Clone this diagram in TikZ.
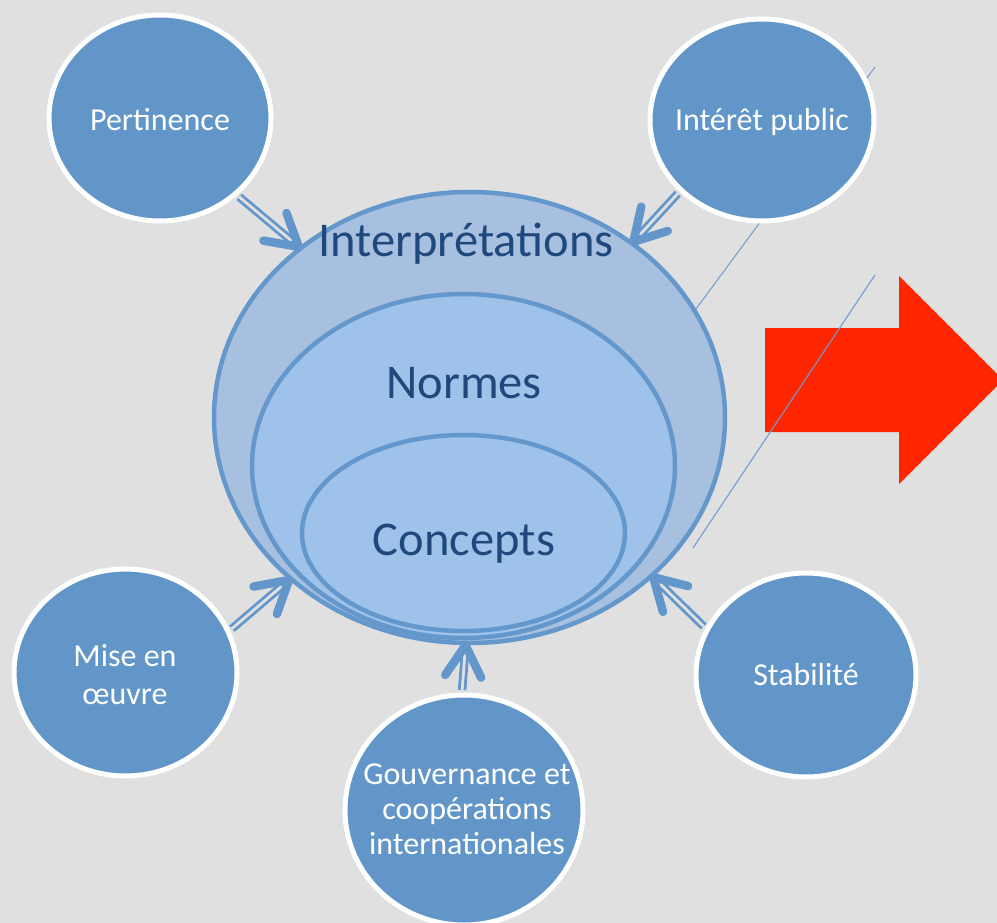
\documentclass[tikz,border=0pt]{standalone}
\usepackage{fontspec}
\setmainfont{Carlito}
\usetikzlibrary{shapes.geometric,calc}
\definecolor{bg}{RGB}{224,224,224}
\definecolor{circfill}{RGB}{98,150,201}
\definecolor{bigfill}{RGB}{167,192,223}
\definecolor{innfill}{RGB}{158,194,233}
\definecolor{edgeblue}{RGB}{100,152,204}
\definecolor{arrowblue}{RGB}{99,151,203}
\definecolor{txtblue}{RGB}{31,72,124}
\definecolor{redarrow}{RGB}{255,38,0}
\definecolor{thinline}{RGB}{110,155,208}
\begin{document}
\begin{tikzpicture}[x=1pt,y=-1pt,
  bubble/.style={ellipse, fill=circfill, draw=white, line width=5pt, inner sep=0pt},
  bubbletext/.style={font=\fontsize{32}{38}\selectfont, text=white, align=center, inner sep=0pt},
  ring/.style={ellipse, draw=edgeblue, line width=4.5pt, inner sep=0pt},
  biglabel/.style={font=\fontsize{48.5}{50}\selectfont, text=txtblue, anchor=base, inner sep=0pt},
  shaft/.style={draw=arrowblue, line width=2.8pt, double=bg, double distance=2.8pt, shorten <=2.5pt, shorten >=6pt},
  head/.style={draw=arrowblue, line width=8.5pt, line cap=round, line join=round},
  thin/.style={draw=thinline, line width=1pt}]
\useasboundingbox (0,0) rectangle (997,923);
\clip (0,0) rectangle (997,923);
\fill[bg] (0,0) rectangle (997,923);

% thin line behind
\coordinate (l1a) at (875,67);
\coordinate (l1b) at (690,317);
\draw[thin] (l1a) -- (l1b);

% nested ellipses
\node[ring, fill=bigfill, minimum width=511pt, minimum height=451pt] (big) at (469.5,417.5) {};
\node[ring, fill=innfill, minimum width=423pt, minimum height=344pt] (normes) at (463.5,466) {};
\node[ring, fill=innfill, minimum width=323pt, minimum height=196pt] (concepts) at (463.5,533) {};
\node[biglabel] (tInterp) at (466,256) {Interprétations};
\node[biglabel] (tNormes) at (464,398) {Normes};
\node[biglabel] (tConcepts) at (464,555) {Concepts};

% bubbles
\node[bubble, minimum width=222pt, minimum height=206pt] (pert) at (160,118) {};
\node[bubble, minimum width=224pt, minimum height=202pt] (inter) at (762,120) {};
\node[bubble, minimum width=223pt, minimum height=207pt] (mise) at (125.5,672.5) {};
\node[bubble, minimum width=220pt, minimum height=204pt] (stab) at (806,675) {};
\node[bubble, minimum width=238pt, minimum height=230pt] (gouv) at (464,810) {};

\node[bubbletext, anchor=base] (tPert) at (160,131) {Pertinence};
\node[bubbletext, anchor=base] (tInter) at (762,131) {Intérêt public};
\node[bubbletext, anchor=base] (tStab) at (806,685) {Stabilité};
\node[bubbletext] (tMise) at (125,675) {Mise en\\œuvre};
\node[bubbletext, font=\fontsize{32}{35}\selectfont] (tGouv) at (467,809) {Gouvernance et\\coopérations\\internationales};

% arrows
\coordinate (s1) at (pert.-45.8);  \coordinate (t1) at (big.135.8);
\coordinate (s2) at (inter.221.7); \coordinate (t2) at (big.47.5);
\coordinate (s3) at (stab.155.9);  \coordinate (t3) at (big.-41.7);
\coordinate (s4) at (mise.22.3);   \coordinate (t4) at (big.-138.3);
\coordinate (s5) at (gouv.91);     \coordinate (t5) at (big.-91.6);
\foreach \s/\t in {s1/t1,s2/t2,s3/t3,s4/t4,s5/t5}{
  \draw[shaft] (\s) -- (\t);
  \draw[head] ($(\t)!36pt!30:(\s)$) -- (\t) -- ($(\t)!36pt!-30:(\s)$);
}

% red block arrow
\fill[redarrow] (765,328) -- (899,328) -- (899,276) -- (1003,380) -- (899,484) -- (899,432) -- (765,432) -- cycle;

% thin line in front
\coordinate (l2a) at (875,275);
\coordinate (l2b) at (693,548);
\draw[thin] (l2a) -- (l2b);
\end{tikzpicture}
\end{document}
